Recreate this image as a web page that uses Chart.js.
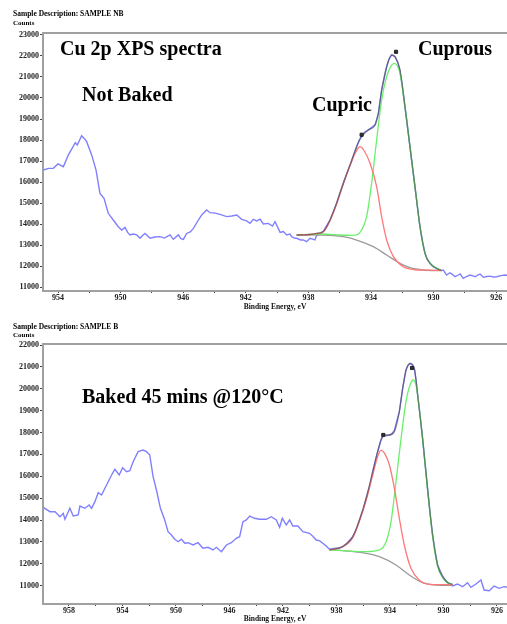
<!DOCTYPE html>
<html><head><meta charset="utf-8">
<script src="https://cdn.jsdelivr.net/npm/chart.js@4"></script>
<style>
html,body{margin:0;padding:0;background:#fff;overflow:hidden;}
#wrap{width:507px;height:624px;position:relative;overflow:hidden;}
.box{position:absolute;left:0;width:507px;height:312px;}
</style></head><body>
<div id="wrap">
<div class="box" style="top:0"><canvas id="c1"></canvas></div>
<div class="box" style="top:312px"><canvas id="c2"></canvas></div>
</div>
<script>
// ---------- DATA: Sample NB (Not Baked) ----------
const nbSpecE = [954.94,954.6,954.3,954.0,953.66,953.34,953.1,952.9,952.77,952.49,952.3,952.17,951.85,951.57,951.32,951.06,950.79,950.47,950.15,949.93,949.72,949.55,949.4,949.2,948.97,948.76,948.6,948.44,948.12,947.8,947.48,947.2,946.84,946.63,946.31,946.15,945.99,945.78,945.55,945.35,945.03,944.82,944.5,944.29,943.95,943.65,943.22,942.9,942.58,942.26,941.95,941.73,941.52,941.3,941.09,940.88,940.56,940.3,940.13,939.81,939.6,939.39,939.18,939.07,938.86,938.75,938.5,938.33,938.11,937.9,937.58,937.47,937.37,937.05,936.85,936.62,936.4,936.2,936.0,935.77,935.55,935.34,935.1,934.92,934.75,934.6,934.4,934.17,933.95,933.74,933.53,933.32,933.15,933.0,932.85,932.68,932.47,932.3,932.15,932.0,931.83,931.67,931.51,931.35,931.19,931.03,930.87,930.7,930.55,930.4,930.23,930.0,929.81,929.6,929.5,929.38,929.17,928.96,928.8,928.63,928.45,928.31,928.1,927.9,927.67,927.5,927.35,927.2,927.03,926.82,926.6,926.4,926.2,925.97,925.7,925.44,925.3];
const nbSpecC = [16570,16650,16650,16860,16730,17290,17600,17870,17760,18200,18050,17920,17290,16570,15460,15220,14510,14190,13870,13710,13840,13600,13480,13520,13480,13320,13450,13550,13320,13380,13400,13330,13480,13270,13480,13300,13270,13550,13620,13790,14190,14430,14670,14540,14520,14460,14350,14380,14430,14220,14150,14030,14220,14150,14230,14000,14030,13900,14110,13600,13640,13480,13520,13400,13320,13320,13240,13240,13160,13320,13240,13480,13480,13650,13900,14190,14600,14985,15450,15940,16400,16810,17300,17680,18000,18200,18380,18480,18600,18720,19270,20380,20950,21490,21850,22050,21970,21700,21330,20600,19590,18650,17680,16700,15780,14800,13870,13150,12610,12300,12130,11950,11890,11800,11780,11810,11570,11680,11600,11490,11560,11620,11410,11500,11570,11530,11490,11560,11620,11460,11500,11520,11480,11490,11540,11570,11560];
const nbFitE = [938.75,938.3,937.9,937.5,937.05,936.62,936.2,935.77,935.34,934.92,934.6,934.17,933.74,933.53,933.32,933.0,932.68,932.47,932.15,931.83,931.51,931.19,930.87,930.55,930.23,929.81,929.5];
const nbFitC = [13476,13480,13500,13550,13640,14190,14985,15937,16810,17683,18160,18476,18714,19270,20380,21490,22048,21968,21333,19586,17683,15776,13870,12605,12128,11890,11790];
const nbRedE = [938.75,938.3,937.9,937.5,937.05,936.62,936.2,935.77,935.34,934.92,934.7,934.45,934.06,933.64,933.32,933.0,932.57,931.94,931.5,931.08,930.4,929.8,929.5];
const nbRedC = [13476,13480,13500,13540,13620,14150,14950,15900,16780,17500,17683,17500,16889,15777,14349,13238,12444,11968,11860,11810,11800,11790,11785];
const nbGreenE = [938.75,938.0,937.05,936.0,935.2,934.92,934.6,934.28,933.96,933.64,933.32,933.0,932.68,932.47,932.3,932.15,931.83,931.51,931.19,930.87,930.55,930.23,929.81,929.5];
const nbGreenC = [13476,13500,13524,13476,13460,13480,13714,14349,15937,18000,19905,21016,21571,21650,21500,21175,19586,17683,15776,13870,12605,12140,11900,11800];
const nbBgE = [938.75,938.0,937.05,935.77,934.92,933.85,933.0,932.15,931.51,930.66,929.5];
const nbBgC = [13476,13480,13476,13396,13238,12920,12524,12128,11920,11810,11780];
const nbMarkE = [934.6,932.4];
const nbMarkC = [18250,22200];

// ---------- DATA: Sample B (Baked) ----------
const bSpecE = [959.92,959.42,959.04,958.67,958.43,958.3,957.93,957.68,957.31,957.18,956.81,956.49,956.31,956.06,955.81,955.56,955.19,954.81,954.57,954.24,953.99,953.69,953.45,953.2,952.83,952.46,952.2,951.96,951.71,951.46,951.16,950.84,950.59,950.34,950.09,949.84,949.59,949.34,949.1,948.72,948.35,947.98,947.6,947.23,946.98,946.6,946.23,945.86,945.49,945.24,944.99,944.74,944.49,944.12,943.75,943.5,943.25,942.87,942.5,942.25,942.05,941.75,941.5,941.26,940.89,940.51,940.01,939.75,939.51,939.25,939.02,938.75,938.52,938.2,937.9,937.53,937.2,936.78,936.5,936.28,936.0,935.78,935.5,935.29,935.1,934.92,934.67,934.5,934.3,934.04,933.85,933.67,933.5,933.3,933.05,932.8,932.65,932.5,932.35,932.18,932.05,931.93,931.75,931.56,931.38,931.19,931.0,930.81,930.63,930.44,930.3,930.07,929.9,929.7,929.5,929.32,928.95,928.57,928.2,927.95,927.57,927.2,926.96,926.58,926.21,925.84,925.46,925.25];
const bSpecC = [14583,14382,14382,14153,14308,14034,14537,14185,14231,14642,14537,14688,14537,14839,15250,15145,15602,16059,16320,16059,16392,16210,16256,16667,17124,17200,17124,16973,15981,15374,14537,14003,13468,13317,13120,13010,13120,12938,12965,12860,12965,12709,12755,12632,12755,12554,12860,12965,13166,13239,13925,14003,14185,14080,14034,14034,14034,14153,14003,13669,14080,13774,14003,13728,13728,13468,13392,13250,13088,13050,12938,12800,12663,12700,12720,12785,12950,13240,13600,14003,14500,14995,15600,16210,16700,17124,17660,17887,17850,17887,17950,18100,18500,18952,20021,20860,21050,21160,21100,20935,20400,19715,18800,17736,16600,15450,14300,13317,12600,11946,11750,11450,11300,11150,11080,10986,11078,10955,11137,10924,11078,11261,10803,10772,10986,10880,10955,10930];
const bFitE = [938.52,937.53,936.78,936.28,935.78,935.29,934.92,934.67,934.42,934.04,933.67,933.3,933.05,932.8,932.5,932.18,931.93,931.56,931.19,930.81,930.44,930.07,929.7,929.32];
const bFitC = [12632,12785,13240,14003,14995,16210,17124,17660,17887,17887,18040,18952,20021,20860,21160,20935,19715,17736,15450,13317,11946,11411,11150,11063];
const bRedE = [938.52,937.53,936.78,936.28,935.78,935.29,934.92,934.67,934.4,934.04,933.67,933.3,932.93,932.43,931.81,931.06,930.2,929.32];
const bRedC = [12632,12780,13200,13950,14900,16050,16900,17200,17050,16515,15450,14080,12860,11793,11261,11063,11050,11050];
const bGreenE = [938.52,937.53,935.78,934.79,934.29,933.92,933.55,933.17,932.8,932.5,932.25,932.05,931.93,931.56,931.19,930.81,930.44,930.07,929.7,929.32];
const bGreenC = [12632,12600,12553,12632,13010,13925,15755,17736,19420,20170,20400,20150,19715,17700,15400,13250,11900,11380,11120,11063];
const bBgE = [938.52,937.53,935.78,934.79,933.55,932.55,931.56,930.56,929.32];
const bBgC = [12632,12600,12480,12327,11946,11489,11137,11032,11020];
const bMarkE = [934.5,932.35];
const bMarkC = [17890,20950];

// ---------- TICKS ----------
const nbXTicks = [926,928,930,932,934,936,938,940,942,944,946,948,950,952,954];
const nbXLabels = [926,930,934,938,942,946,950,954];
const nbYTicks = [11000,12000,13000,14000,15000,16000,17000,18000,19000,20000,21000,22000,23000];
const bXTicks = [926,928,930,932,934,936,938,940,942,944,946,948,950,952,954,956,958];
const bXLabels = [926,930,934,938,942,946,950,954,958];
const bYTicks = [11000,12000,13000,14000,15000,16000,17000,18000,19000,20000,21000,22000];

const pts = (E, C) => E.map((e, i) => ({x: e, y: C[i]}));
const SERIF = "'Liberation Serif','Times New Roman',serif";

const annotPlugin = {
  id: 'annot',
  afterDraw(chart, args, opts) {
    const ctx = chart.ctx;
    ctx.save();
    const a = chart.chartArea;
    ctx.strokeStyle = '#a0a0a0';
    ctx.lineWidth = 2;
    ctx.beginPath();
    ctx.moveTo(a.left - 1, a.top);
    ctx.lineTo(a.right, a.top);
    ctx.stroke();
    ctx.textBaseline = 'alphabetic';
    ctx.textAlign = 'left';
    (opts.items || []).forEach(it => {
      ctx.font = 'bold ' + it.size + 'px ' + SERIF;
      ctx.fillStyle = it.color || '#000';
      ctx.fillText(it.text, it.x, it.y);
    });
    ctx.restore();
  }
};

function makeChart(id, cfg) {
  const datasets = [
    {data: pts(cfg.markE, cfg.markC), showLine: false, pointRadius: 2.2, pointStyle: 'rect', pointBackgroundColor: '#333', pointBorderColor: '#222', borderWidth: 1},
    {data: pts(cfg.fitE, cfg.fitC), borderColor: 'rgba(70,70,70,0.6)', borderWidth: 1.3, pointRadius: 0, cubicInterpolationMode: 'monotone'},
    {data: pts(cfg.redE, cfg.redC), borderColor: '#ff7878', borderWidth: 1.3, pointRadius: 0, cubicInterpolationMode: 'monotone'},
    {data: pts(cfg.greenE, cfg.greenC), borderColor: '#6cf06c', borderWidth: 1.3, pointRadius: 0, cubicInterpolationMode: 'monotone'},
    {data: pts(cfg.bgE, cfg.bgC), borderColor: '#9a9a9a', borderWidth: 1.3, pointRadius: 0, cubicInterpolationMode: 'monotone'},
    {data: pts(cfg.specE, cfg.specC), borderColor: '#8080ff', borderWidth: 1.4, pointRadius: 0, tension: 0}
  ];
  const tickFont = {family: SERIF, size: 8, weight: 'bold'};
  return new Chart(document.getElementById(id), {
    type: 'line',
    data: {datasets},
    plugins: [annotPlugin],
    options: {
      responsive: true, maintainAspectRatio: false, animation: false, devicePixelRatio: 1,
      layout: {autoPadding: false, padding: {top: cfg.top, right: 0, left: 0, bottom: 0}},
      plugins: {legend: {display: false}, tooltip: {enabled: false}, annot: {items: cfg.texts}},
      scales: {
        x: {
          type: 'linear', reverse: true, min: cfg.xmin, max: cfg.xmax,
          afterBuildTicks: s => { s.ticks = cfg.xTicks.map(v => ({value: v})); },
          afterFit: s => { s.height = cfg.xh; s.paddingLeft = 0; s.paddingRight = 0; },
          ticks: {autoSkip: false, maxRotation: 0, font: tickFont, color: '#222', padding: 0,
                  callback: v => cfg.xLabels.includes(v) ? String(v) : ''},
          grid: {drawOnChartArea: false, drawTicks: true, tickLength: 2, color: '#444', tickWidth: 1},
          border: {display: true, color: '#a0a0a0', width: 2},
          title: {display: true, text: 'Binding Energy, eV', font: {family: SERIF, size: 7.5, weight: 'bold'}, color: '#111', padding: {top: 0, bottom: 0}}
        },
        y: {
          type: 'linear', min: cfg.ymin, max: cfg.ymax,
          afterBuildTicks: s => { s.ticks = cfg.yTicks.map(v => ({value: v})); },
          afterFit: s => { s.width = 43; s.paddingTop = 0; s.paddingBottom = 0; },
          ticks: {font: tickFont, color: '#222', padding: 1, callback: v => String(v)},
          grid: {drawOnChartArea: false, drawTicks: true, tickLength: 3, color: '#444', tickWidth: 1},
          border: {display: true, color: '#a0a0a0', width: 2}
        }
      }
    }
  });
}

makeChart('c1', {
  specE: nbSpecE, specC: nbSpecC, fitE: nbFitE, fitC: nbFitC, redE: nbRedE, redC: nbRedC,
  greenE: nbGreenE, greenC: nbGreenC, bgE: nbBgE, bgC: nbBgC, markE: nbMarkE, markC: nbMarkC,
  xTicks: nbXTicks, xLabels: nbXLabels, yTicks: nbYTicks,
  xmin: 925.31, xmax: 954.96, ymin: 10810, ymax: 23095, top: 33, xh: 21,
  texts: [
    {text: 'Sample Description: SAMPLE NB', x: 13, y: 16, size: 7.5},
    {text: 'Counts', x: 13, y: 25, size: 7},
    {text: 'Cu 2p XPS spectra', x: 60, y: 55, size: 20},
    {text: 'Not Baked', x: 82, y: 101, size: 20},
    {text: 'Cupric', x: 312, y: 111, size: 20},
    {text: 'Cuprous', x: 418, y: 55, size: 20}
  ]
});
makeChart('c2', {
  specE: bSpecE, specC: bSpecC, fitE: bFitE, fitC: bFitC, redE: bRedE, redC: bRedC,
  greenE: bGreenE, greenC: bGreenC, bgE: bBgE, bgC: bBgC, markE: bMarkE, markC: bMarkC,
  xTicks: bXTicks, xLabels: bXLabels, yTicks: bYTicks,
  xmin: 925.25, xmax: 959.94, ymin: 10163, ymax: 22046, top: 32, xh: 20,
  texts: [
    {text: 'Sample Description: SAMPLE B', x: 13, y: 17, size: 7.5},
    {text: 'Counts', x: 13, y: 25, size: 7},
    {text: 'Baked 45 mins @120°C', x: 82, y: 91, size: 20}
  ]
});
</script>
</body></html>
